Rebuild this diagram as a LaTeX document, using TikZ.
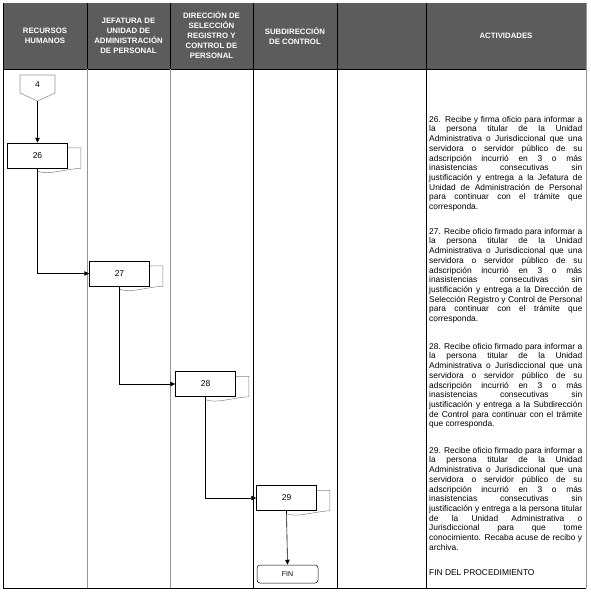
\documentclass[tikz,border=0pt]{standalone}
\usepackage{fontspec}
\setmainfont{Liberation Sans}
\usetikzlibrary{arrows.meta,calc}
\definecolor{hdrgray}{RGB}{92,92,92}
\definecolor{lanegray}{RGB}{150,150,150}
\definecolor{shadegray}{RGB}{130,130,130}
\tolerance=10000
\pretolerance=10000
\hyphenpenalty=10000
\hbadness=10000
\newcommand{\docshadow}[1]{%
  \draw[shadowline] ($(#1.north east)+(0,5)$) -- ($(#1.north east)+(13,5)$) -- ($(#1.south east)+(13,0)$)
    .. controls ($(#1.south east)+(-4,1)$) and ($(#1.south)+(11,7)$) .. ($(#1.south)+(0,3)$);}
\begin{document}
\begin{tikzpicture}[x=1pt,y=-1pt,
  hdr/.style={text=white,font=\fontsize{7.8}{10}\selectfont\bfseries,align=center,inner sep=0pt},
  proc/.style={draw=black,line width=0.5pt,fill=white,minimum width=60pt,minimum height=25pt,inner sep=0pt,font=\fontsize{8.5}{10}\selectfont},
  shadowline/.style={draw=shadegray,line width=0.5pt},
  arr/.style={draw=black,line width=0.6pt,-{Triangle[length=5pt,width=4.5pt]}},
  act/.style={anchor=north west,text width=153pt,align=justify,inner sep=0pt,font=\fontsize{8.4}{9.7}\selectfont},
  finbox/.style={draw=black,line width=0.5pt,rounded corners=3pt,minimum width=61pt,minimum height=18pt,inner sep=0pt,font=\fontsize{7}{8}\selectfont},
  lanethin/.style={draw=lanegray,line width=0.75pt},
  lanedark/.style={draw=black,line width=0.75pt},
  ]
\useasboundingbox (0,0) rectangle (590,595);
% header band
\fill[hdrgray] (3,3) rectangle (586,69);
\foreach \xx in {87,170,253,337,426}{\draw[black,line width=0.6pt] (\xx,3) -- (\xx,69);}
\draw[black,line width=0.75pt] (3,69) -- (586,69);
% lanes
\draw[lanedark] (3,3) -- (3,588);
\draw[lanethin] (87,69) -- (87,588);
\draw[lanethin] (170,69) -- (170,588);
\draw[lanedark] (253,69) -- (253,588);
\draw[lanedark] (337,69) -- (337,588);
\draw[lanedark] (426,69) -- (426,588);
\draw[lanethin] (586,3) -- (586,588);
\draw[lanedark] (3,588) -- (586,588);
% header texts
\node[hdr] (h1) at (45,36) {RECURSOS\\HUMANOS};
\node[hdr] (h2) at (128.5,36) {JEFATURA DE\\UNIDAD DE\\ADMINISTRACIÓN\\DE PERSONAL};
\node[hdr] (h3) at (211.5,35.5) {DIRECCIÓN DE\\SELECCIÓN\\REGISTRO Y\\CONTROL DE\\PERSONAL};
\node[hdr] (h4) at (295,36) {SUBDIRECCIÓN\\DE CONTROL};
\node[hdr] (h6) at (506,36) {ACTIVIDADES};
% off-page connector
\draw[draw=lanegray,line width=0.6pt,fill=white] (20,75) -- (55,75) -- (55,93) -- (37.5,101) -- (20,93) -- cycle;
\node[font=\fontsize{8.5}{10}\selectfont,inner sep=0pt] (c4) at (37.5,85) {4};
\coordinate (c4tip) at (37.5,101);
% process boxes
\node[proc] (b26) at (37.5,155.5) {26};
\docshadow{b26}
\node[proc] (b27) at (119.5,273.5) {27};
\docshadow{b27}
\node[proc] (b28) at (205.5,384) {28};
\docshadow{b28}
\node[proc] (b29) at (286.5,498) {29};
\docshadow{b29}
\node[finbox] (fin) at (287.5,574) {FIN};
% connectors
\draw[arr] (c4tip) -- (b26.north);
\draw[arr] (b26.south) |- (b27.west);
\draw[arr] (b27.south) |- (b28.west);
\draw[arr] (b28.south) |- (b29.west);
\draw[arr] (b29.south) -- (fin.north);
% activities
\node[act] (a26) at (429,116) {26. Recibe y firma oficio para informar a\linebreak la persona titular de la Unidad\linebreak Administrativa o Jurisdiccional que una\linebreak servidora o servidor público de su\linebreak adscripción incurrió en 3 o más\linebreak inasistencias consecutivas sin\linebreak justificación y entrega a la Jefatura de\linebreak Unidad de Administración de Personal\linebreak para continuar con el trámite que\linebreak corresponda.};
\node[act] (a27) at (429,228) {27. Recibe oficio firmado para informar a\linebreak la persona titular de la Unidad\linebreak Administrativa o Jurisdiccional que una\linebreak servidora o servidor público de su\linebreak adscripción incurrió en 3 o más\linebreak inasistencias consecutivas sin\linebreak justificación y entrega a la Dirección de\linebreak Selección Registro y Control de Personal\linebreak para continuar con el trámite que\linebreak corresponda.};
\node[act] (a28) at (429,343) {28. Recibe oficio firmado para informar a\linebreak la persona titular de la Unidad\linebreak Administrativa o Jurisdiccional que una\linebreak servidora o servidor público de su\linebreak adscripción incurrió en 3 o más\linebreak inasistencias consecutivas sin\linebreak justificación y entrega a la Subdirección\linebreak de Control para continuar con el trámite\linebreak que corresponda.};
\node[act] (a29) at (429,447) {29. Recibe oficio firmado para informar a\linebreak la persona titular de la Unidad\linebreak Administrativa o Jurisdiccional que una\linebreak servidora o servidor público de su\linebreak adscripción incurrió en 3 o más\linebreak inasistencias consecutivas sin\linebreak justificación y entrega a la persona titular\linebreak de la Unidad Administrativa o\linebreak Jurisdiccional para que tome\linebreak conocimiento. Recaba acuse de recibo y\linebreak archiva.};
\node[act] (afin) at (429,569) {FIN DEL PROCEDIMIENTO};
\end{tikzpicture}
\end{document}
